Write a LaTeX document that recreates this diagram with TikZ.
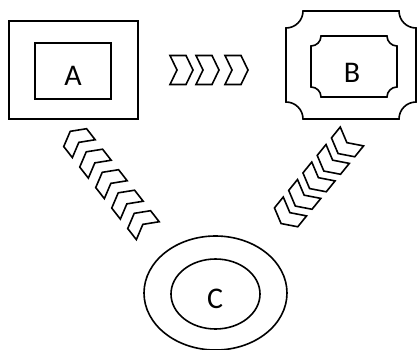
\documentclass[tikz,border=0pt]{standalone}
\usepackage{fontspec}
\setmainfont{Carlito}
\usetikzlibrary{calc}

\tikzset{
  outline/.style={line width=1.6pt, line join=miter, draw=black},
  label/.style={font=\fontsize{30}{31}\selectfont, anchor=base, inner sep=0pt},
  % chevron pointing along +x: {length}{width}{notch depth}
  pics/chevron/.style n args={3}{code={
    \draw[outline] (-#1/2,#2/2) -- (#1/2-#3,#2/2) -- (#1/2,0)
      -- (#1/2-#3,-#2/2) -- (-#1/2,-#2/2) -- (-#1/2+#3,0) -- cycle;
  }}
}

% rectangle with concave (notched) corners: x0 y0 x1 y1 r
\newcommand\notchedbox[5]{%
  \draw[outline] (#1+#5,#4) -- (#3-#5,#4) arc[start angle=180,end angle=270,radius=#5]
    -- (#3,#2+#5) arc[start angle=90,end angle=180,radius=#5]
    -- (#1+#5,#2) arc[start angle=0,end angle=90,radius=#5]
    -- (#1,#4-#5) arc[start angle=270,end angle=360,radius=#5] -- cycle;}

\begin{document}
\begin{tikzpicture}[x=1pt,y=1pt]
\useasboundingbox (0,0) rectangle (417,349);

% A: nested rectangles
\node[outline, minimum width=129pt, minimum height=98pt, inner sep=0pt] (Aouter) at (73.5,279) {};
\node[outline, minimum width=76pt, minimum height=56pt, inner sep=0pt] (Ainner) at (73,278) {};
\node[label] (A) at (73,264) {A};

% B: nested notched rectangles
\coordinate (Bc) at (351,284);
\notchedbox{286}{230}{416}{338}{17}
\notchedbox{311}{252}{397}{313}{10}
\node[label] (B) at (352,267) {B};

% C: nested ellipses
\coordinate (Cc) at (215.5,56);
\draw[outline] (Cc) ellipse[x radius=71.5, y radius=57];
\draw[outline] (215.5,55) ellipse[x radius=44.5, y radius=35];
\node[label] (C) at (215,41) {C};

% chevrons A -> B
\foreach \cx in {181.5,207.5,236.5}
  \pic at (\cx,279) {chevron={23}{29}{7}};

% chevrons B -> C
\coordinate (rb1) at (345,204);
\coordinate (rb2) at (288,134);
\foreach \i in {0,...,4}
  \pic[rotate=231] at ($(rb1)!\i/4!(rb2)$) {chevron={22}{30}{8}};

% chevrons C -> A
\coordinate (la1) at (141,127);
\coordinate (la2) at (77,209);
\foreach \i in {0,...,4}
  \pic[rotate=128] at ($(la1)!\i/4!(la2)$) {chevron={22}{29}{8}};
\end{tikzpicture}
\end{document}
